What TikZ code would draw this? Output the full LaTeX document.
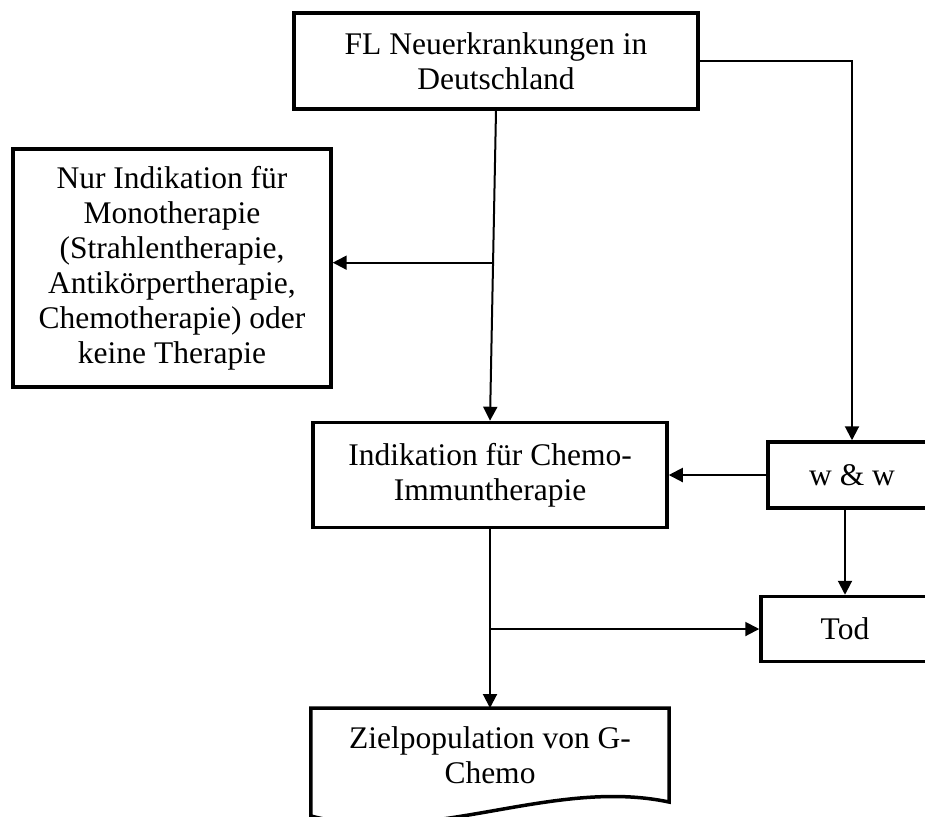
\documentclass[tikz,border=0pt]{standalone}
\usepackage{fontspec}
\setmainfont{Liberation Serif}
\usetikzlibrary{arrows.meta}

\begin{document}
\begin{tikzpicture}[>={Triangle[length=7pt,width=7pt]},line width=1pt,node distance=207pt,
    every node/.style={font=\fontsize{15.75}{17.5}\selectfont},
    block/.style={draw,line width=1.75pt,align=center,inner sep=0pt}]

            \useasboundingbox (-248pt,30.5pt) rectangle (214.5pt,-377.5pt);

            \node[block, minimum width=202pt, minimum height=48pt]  (fl) []{FL Neuerkrankungen in\\Deutschland};
            \node[block, minimum width=159pt, minimum height=119pt] (nur) [left of = fl, xshift=45pt, yshift=-103.5pt]{Nur Indikation für\\Monotherapie\\(Strahlentherapie,\\Antikörpertherapie,\\Chemotherapie) oder\\keine Therapie};
            \node[block, minimum width=177pt, minimum height=52.5pt] (chemo) [below of = fl, xshift=-3pt]{Indikation für Chemo-\\Immuntherapie};
            \node[block, minimum width=84pt, minimum height=33pt]  (ww) [right of = chemo, xshift=-26pt]{w \& w};
            \node[block, minimum width=84pt, minimum height=32.5pt]  (tod) [below of = ww, xshift=-3.5pt, yshift=130pt]{Tod};
            \node[align=center, inner sep=0pt, minimum width=178pt, minimum height=46pt]  (ziel) [below of = chemo, yshift=67pt]{Zielpopulation von G-\\Chemo};

            % document shape with wavy bottom
            \draw[line width=1.75pt] (ziel.north west) -- (ziel.north east) -- (ziel.south east)
                .. controls ([xshift=-59pt,yshift=12.5pt]ziel.south east) and ([xshift=59.5pt,yshift=-22.5pt]ziel.south west) .. ([yshift=-7pt]ziel.south west) -- cycle;

            \path (fl.south) -- (chemo.north) coordinate[pos=0.49] (split);

            \path[every edge/.append style={->}]
                (fl.south) edge (chemo.north)
                (split) edge (split -| nur.east)
                (ww.west) edge (ww.west -| chemo.east)
                (tod.north |- ww.south) edge (tod.north)
                (chemo.south) edge (ziel.north)
                (chemo.south |- tod.west) edge (tod.west)
            ;
            \draw[->] (fl.east) -| (ww);
        \end{tikzpicture}
\end{document}
